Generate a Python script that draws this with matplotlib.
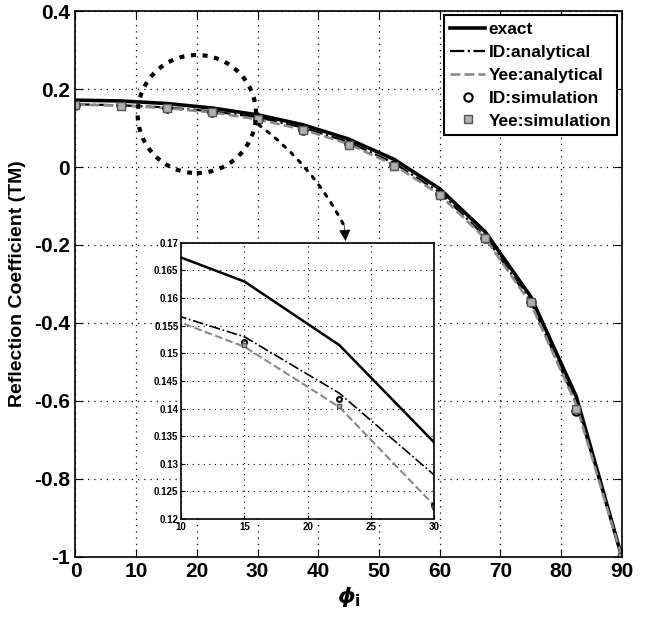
import matplotlib
matplotlib.use("Agg")
import matplotlib.pyplot as plt
from matplotlib.patches import Ellipse

plt.rcParams['font.family'] = ['Liberation Sans', 'DejaVu Sans']
plt.rcParams['font.weight'] = 'bold'
plt.rcParams['mathtext.fontset'] = 'dejavusans'

# ---- data ----
angles = [0, 7.5, 15, 22.5, 30, 37.5, 45, 52.5, 60, 67.5, 75, 82.5, 90]
exact = [0.1716, 0.1695, 0.1630, 0.1515, 0.1339, 0.1084, 0.0718, 0.0196,
         -0.0557, -0.1663, -0.3323, -0.5887, -1.0]
id_analytical = [0.1610, 0.1584, 0.1530, 0.1428, 0.1280, 0.1010, 0.0640, 0.0100,
                 -0.0650, -0.1780, -0.3450, -0.6050, -1.0]
yee_analytical = [0.1600, 0.1577, 0.1512, 0.1403, 0.1225, 0.0960, 0.0590, 0.0050,
                  -0.0710, -0.1830, -0.3500, -0.6100, -1.0]
id_simulation = [0.1600, 0.1580, 0.1520, 0.1418, 0.1225, 0.0950, 0.0580, 0.0040,
                 -0.0700, -0.1820, -0.3460, -0.6250, -1.0]
yee_simulation = [0.1590, 0.1575, 0.1515, 0.1405, 0.1222, 0.0945, 0.0575, 0.0035,
                  -0.0710, -0.1830, -0.3460, -0.6200, -1.0]

x_ticks = [0, 10, 20, 30, 40, 50, 60, 70, 80, 90]
y_ticks = [0.4, 0.2, 0, -0.2, -0.4, -0.6, -0.8, -1]
y_ticklabels = ['0.4', '0.2', '0', '-0.2', '-0.4', '-0.6', '-0.8', '-1']
inset_x_ticks = [10, 15, 20, 25, 30]
inset_y_ticks = [0.12, 0.125, 0.13, 0.135, 0.14, 0.145, 0.15, 0.155, 0.16, 0.165, 0.17]
inset_y_ticklabels = ['0.12', '0.125', '0.13', '0.135', '0.14', '0.145', '0.15',
                      '0.155', '0.16', '0.165', '0.17']

gray = '#8a8a8a'

fig = plt.figure(figsize=(6.45, 6.18), dpi=100)
ax = fig.add_axes([0.117, 0.099, 0.847, 0.883])

def draw(a, lw_main, lw_other, ms):
    a.plot(angles, exact, '-', color='black', lw=lw_main, label='exact')
    a.plot(angles, id_analytical, '-.', color='black', lw=lw_other, label='ID:analytical')
    a.plot(angles, yee_analytical, '--', color=gray, lw=lw_other + 0.3, label='Yee:analytical')
    a.plot(angles, id_simulation, 'o', mfc='none', mec='black', mew=1.5, ms=ms,
           label='ID:simulation')
    a.plot(angles, yee_simulation, 's', mfc='#b0b0b0', mec='#555555', mew=1.0, ms=ms,
           label='Yee:simulation')

draw(ax, 2.6, 1.6, 6)
ax.set_xlim(0, 90)
ax.set_ylim(-1, 0.4)
ax.set_xticks(x_ticks)
ax.set_xticklabels([str(t) for t in x_ticks])
ax.set_yticks(y_ticks)
ax.set_yticklabels(y_ticklabels)
ax.tick_params(direction='in', top=True, right=True, labelsize=15, length=6, pad=4)
ax.grid(True, linestyle=(0, (1, 4)), color='black', lw=0.9)
for s in ax.spines.values():
    s.set_linewidth(1.2)
ax.set_ylabel('Reflection Coefficient (TM)', fontsize=14, fontweight='bold', labelpad=6)
ax.set_xlabel(r'$\phi_\mathbf{i}$', fontsize=16, labelpad=2)

leg = ax.legend(loc='upper right', fontsize=12.5, frameon=True, fancybox=False,
                edgecolor='black', framealpha=1, borderpad=0.35, labelspacing=0.45,
                handlelength=2.0, handletextpad=0.2, borderaxespad=0.25)
leg.get_frame().set_linewidth(1.5)

# dashed circle highlighting zoomed region
ell = Ellipse((20, 0.136), width=19.5, height=0.303, fill=False, edgecolor='black',
              lw=3, linestyle=(0, (1.2, 1.6)), zorder=5)
ax.add_patch(ell)
# dotted arrow shaft
ax.annotate('', xy=(44.4, -0.155), xytext=(29.8, 0.113),
            arrowprops=dict(arrowstyle='-', color='black', lw=2.2,
                            linestyle=(0, (1, 2.5)),
                            connectionstyle='arc3,rad=-0.12'), zorder=6)
# solid arrow head
ax.annotate('', xy=(44.5, -0.19), xytext=(44.3, -0.15),
            arrowprops=dict(arrowstyle='-|>', color='black', lw=0.5,
                            mutation_scale=18, shrinkA=0, shrinkB=0), zorder=6)

# inset
ins = fig.add_axes([0.281, 0.160, 0.392, 0.447])
draw(ins, 1.8, 1.2, 3.5)
ins.set_xlim(10, 30)
ins.set_ylim(0.12, 0.17)
ins.set_xticks(inset_x_ticks)
ins.set_xticklabels([str(t) for t in inset_x_ticks])
ins.set_yticks(inset_y_ticks)
ins.set_yticklabels(inset_y_ticklabels)
ins.tick_params(direction='in', labelsize=7, length=3, pad=2)
ins.grid(True, linestyle=(0, (1, 4)), color='black', lw=0.8)
for s in ins.spines.values():
    s.set_linewidth(1.2)

fig.savefig('out.png', dpi=100)
